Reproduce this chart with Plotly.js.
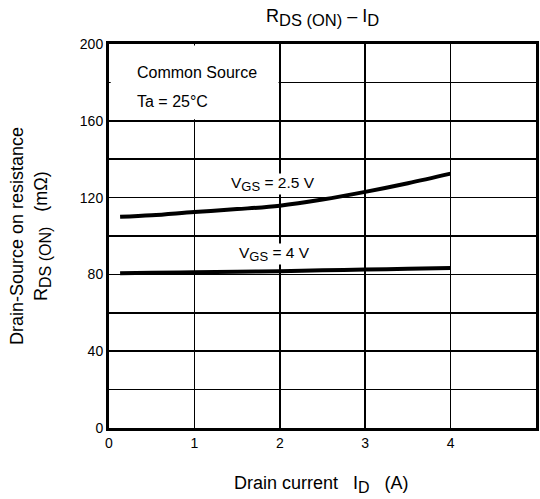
<!DOCTYPE html>
<html>
<head>
<meta charset="utf-8">
<script src="https://cdn.plot.ly/plotly-3.0.1.min.js"></script>
<style>html,body{margin:0;padding:0;background:#fff;}#chart{width:540px;height:499px;}</style>
</head>
<body>
<div id="chart"></div>
<script>
// Drain current I_D (A)
const drainCurrent = [0.13, 0.5, 1, 1.5, 2, 2.5, 3, 3.5, 4];
// R_DS(ON) (mΩ) for VGS = 2.5 V
const rdsVgs25 = [110, 110.8, 112.5, 114, 115.8, 119, 123, 127.5, 132.5];
// R_DS(ON) (mΩ) for VGS = 4 V
const rdsVgs4 = [80.6, 80.8, 81.1, 81.4, 81.7, 82.1, 82.5, 82.9, 83.3];
const xTickVals = [0, 1, 2, 3, 4, 5];
const yTickVals = [0, 40, 80, 120, 160, 200];
const yMinorGrid = [20, 60, 100, 140, 180];

const font = 'Arial, "Liberation Sans", sans-serif';
function sub(t, px) { return '<sub><span style="font-size:' + px + 'px">' + t + '</span></sub>'; }

const traces = [
  {x: drainCurrent, y: rdsVgs25, mode: 'lines', line: {color: '#000', width: 4, shape: 'spline'}, hoverinfo: 'skip'},
  {x: drainCurrent, y: rdsVgs4, mode: 'lines', line: {color: '#000', width: 4, shape: 'spline'}, hoverinfo: 'skip'}
];

const layout = {
  width: 540, height: 499,
  margin: {l: 109, r: 4, t: 44, b: 71},
  paper_bgcolor: '#fff', plot_bgcolor: '#fff',
  showlegend: false,
  font: {family: font, color: '#000', size: 14},
  xaxis: {
    range: [0, 5], tickvals: xTickVals, ticktext: xTickVals.map(String),
    showgrid: true, gridcolor: '#000', gridwidth: 1.5,
    showline: true, linecolor: '#000', linewidth: 3, mirror: true,
    ticks: '', zeroline: false, fixedrange: true,
    tickfont: {family: font, size: 14, color: '#000'}
  },
  yaxis: {
    range: [0, 200], tickvals: yTickVals, ticktext: yTickVals.map(String),
    showgrid: true, gridcolor: '#000', gridwidth: 1.5,
    minor: {tickvals: yMinorGrid, showgrid: true, gridcolor: '#000', gridwidth: 1.5, ticks: ''},
    showline: true, linecolor: '#000', linewidth: 3, mirror: true,
    ticks: '', zeroline: false, fixedrange: true,
    tickfont: {family: font, size: 14, color: '#000'}
  },
  shapes: [
    {type: 'rect', xref: 'x', yref: 'y', x0: 0.02, x1: 1.985, y0: 160.8, y1: 199.2,
     fillcolor: '#fff', line: {width: 0}, layer: 'between'}
  ],
  annotations: [
    {xref: 'paper', yref: 'paper', x: 0.5, y: 1.07, xanchor: 'center', yanchor: 'middle',
     text: 'R' + sub('DS (ON)', 16.5) + ' – I' + sub('D', 16.5), showarrow: false, font: {size: 18, family: font}},
    {xref: 'x', yref: 'y', x: 0.31, y: 185.4, xanchor: 'left', yanchor: 'middle',
     text: 'Common Source', showarrow: false, font: {size: 16, family: font}},
    {xref: 'x', yref: 'y', x: 0.31, y: 170.3, xanchor: 'left', yanchor: 'middle',
     text: 'Ta = 25°C', showarrow: false, font: {size: 16, family: font}},
    {xref: 'x', yref: 'y', x: 1.92, y: 127, xanchor: 'center', yanchor: 'middle',
     text: 'V' + sub('GS', 13) + ' = 2.5 V', showarrow: false, bgcolor: '#fff', borderpad: 0,
     font: {size: 15.5, family: font}},
    {xref: 'x', yref: 'y', x: 1.94, y: 90.5, xanchor: 'center', yanchor: 'middle',
     text: 'V' + sub('GS', 13) + ' = 4 V', showarrow: false, bgcolor: '#fff', borderpad: 0,
     font: {size: 15.5, family: font}},
    {xref: 'paper', yref: 'paper', x: 0.497, y: -0.148, xanchor: 'center', yanchor: 'middle',
     text: 'Drain current   I' + sub('D', 16) + '   (A)', showarrow: false, font: {size: 18, family: font}},
    {xref: 'paper', yref: 'paper', x: -0.2155, y: 0.5, xanchor: 'center', yanchor: 'middle', textangle: -90,
     text: 'Drain-Source on resistance', showarrow: false, font: {size: 18, family: font}},
    {xref: 'paper', yref: 'paper', x: -0.157, y: 0.5, xanchor: 'center', yanchor: 'middle', textangle: -90,
     text: 'R' + sub('DS (ON)', 16) + '   (mΩ)', showarrow: false, font: {size: 18, family: font}}
  ]
};

Plotly.newPlot('chart', traces, layout, {displayModeBar: false, staticPlot: true});
</script>
</body>
</html>
